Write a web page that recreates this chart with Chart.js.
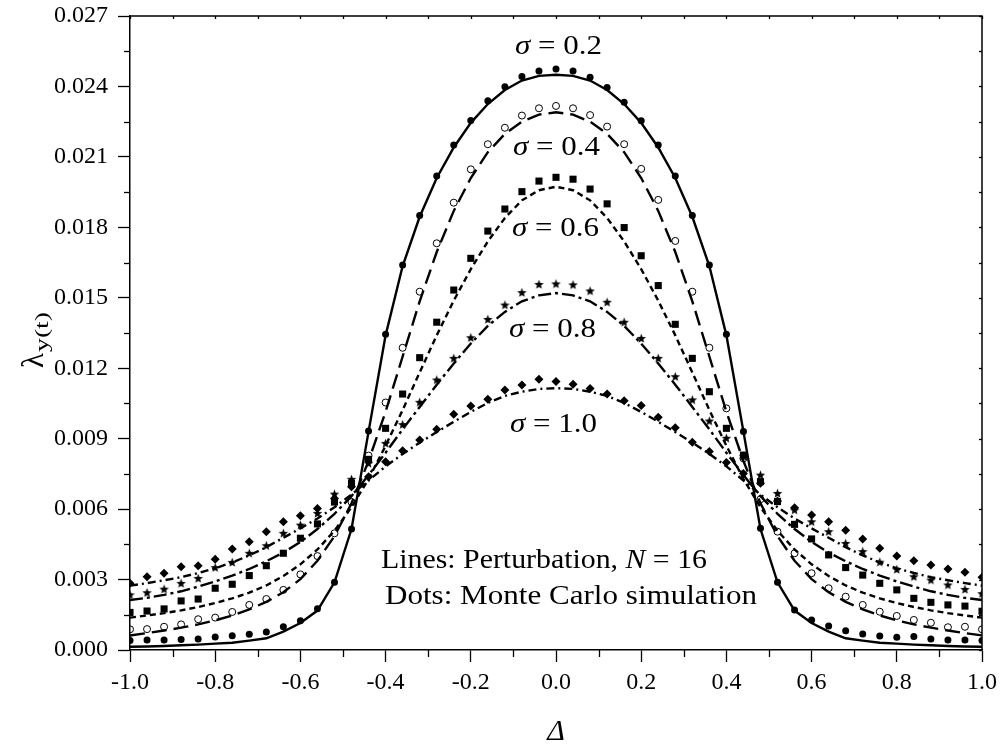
<!DOCTYPE html>
<html><head><meta charset="utf-8">
<script src="https://cdn.jsdelivr.net/npm/chart.js@4.4.0/dist/chart.umd.min.js"></script>
<style>html,body{margin:0;padding:0;background:#fff}#wrap{width:1000px;height:746px}</style>
</head><body><div id="wrap"><canvas id="c" width="1000" height="746"></canvas></div>
<script>
// ---------- data ----------
const deltaX = [-1.00,-0.96,-0.92,-0.88,-0.84,-0.80,-0.76,-0.72,-0.68,-0.64,-0.60,-0.56,-0.52,-0.48,-0.44,-0.40,-0.36,-0.32,-0.28,-0.24,-0.20,-0.16,-0.12,-0.08,-0.04,0.00,
  0.04,0.08,0.12,0.16,0.20,0.24,0.28,0.32,0.36,0.40,0.44,0.48,0.52,0.56,0.60,0.64,0.68,0.72,0.76,0.80,0.84,0.88,0.92,0.96,1.00];

const xTicks = [-1.0,-0.8,-0.6,-0.4,-0.2,0.0,0.2,0.4,0.6,0.8,1.0];
const xMinor = [-0.9,-0.7,-0.5,-0.3,-0.1,0.1,0.3,0.5,0.7,0.9];
const yTicks = [0.000,0.003,0.006,0.009,0.012,0.015,0.018,0.021,0.024,0.027];
const yMinor = [0.0015,0.0045,0.0075,0.0105,0.0135,0.0165,0.0195,0.0225,0.0255];

// Perturbation (lines), N = 16
const pert02 = [0.00014,0.00015,0.00017,0.00020,0.00023,0.00027,0.00031,0.00040,0.00050,0.00078,0.00115,0.00168,0.00288,0.00515,0.00930,0.01340,0.01635,0.01845,0.02010,0.02140,0.02245,0.02325,0.02385,0.02425,0.02445,0.02450,
  0.02445,0.02425,0.02385,0.02325,0.02245,0.02140,0.02010,0.01845,0.01635,0.01340,0.00930,0.00515,0.00288,0.00168,0.00115,0.00078,0.00050,0.00040,0.00031,0.00027,0.00023,0.00020,0.00017,0.00015,0.00014];
const pert04 = [0.00062,0.00072,0.00083,0.00095,0.00109,0.00126,0.00147,0.00173,0.00205,0.00246,0.00302,0.00380,0.00485,0.00625,0.00805,0.01015,0.01250,0.01485,0.01695,0.01870,0.02010,0.02120,0.02198,0.02250,0.02280,0.02290,
  0.02280,0.02250,0.02198,0.02120,0.02010,0.01870,0.01695,0.01485,0.01250,0.01015,0.00805,0.00625,0.00485,0.00380,0.00302,0.00246,0.00205,0.00173,0.00147,0.00126,0.00109,0.00095,0.00083,0.00072,0.00062];
const pert06 = [0.00138,0.00147,0.00157,0.00169,0.00183,0.00200,0.00220,0.00244,0.00275,0.00315,0.00365,0.00428,0.00508,0.00608,0.00728,0.00870,0.01022,0.01182,0.01340,0.01488,0.01622,0.01740,0.01840,0.01915,0.01958,0.01973,
  0.01958,0.01915,0.01840,0.01740,0.01622,0.01488,0.01340,0.01182,0.01022,0.00870,0.00728,0.00608,0.00508,0.00428,0.00365,0.00315,0.00275,0.00244,0.00220,0.00200,0.00183,0.00169,0.00157,0.00147,0.00138];
const pert08 = [0.00213,0.00222,0.00235,0.00250,0.00270,0.00292,0.00317,0.00345,0.00378,0.00415,0.00460,0.00515,0.00580,0.00655,0.00745,0.00840,0.00940,0.01035,0.01130,0.01220,0.01305,0.01380,0.01440,0.01485,0.01510,0.01520,
  0.01510,0.01485,0.01440,0.01380,0.01305,0.01220,0.01130,0.01035,0.00940,0.00840,0.00745,0.00655,0.00580,0.00515,0.00460,0.00415,0.00378,0.00345,0.00317,0.00292,0.00270,0.00250,0.00235,0.00222,0.00213];
const pert10 = [0.00274,0.00285,0.00297,0.00310,0.00328,0.00348,0.00373,0.00403,0.00438,0.00478,0.00518,0.00560,0.00608,0.00662,0.00722,0.00782,0.00835,0.00883,0.00928,0.00972,0.01014,0.01052,0.01082,0.01100,0.01112,0.01115,
  0.01112,0.01100,0.01082,0.01052,0.01014,0.00972,0.00928,0.00883,0.00835,0.00782,0.00722,0.00662,0.00608,0.00560,0.00518,0.00478,0.00438,0.00403,0.00373,0.00348,0.00328,0.00310,0.00297,0.00285,0.00274];

// Monte Carlo simulation (dots)
const mc02 = [0.00040,0.00043,0.00043,0.00045,0.00047,0.00055,0.00061,0.00067,0.00077,0.00099,0.00125,0.00176,0.00288,0.00515,0.00933,0.01345,0.01640,0.01850,0.02019,0.02151,0.02255,0.02339,0.02399,0.02442,0.02466,0.02474,
  0.02466,0.02439,0.02396,0.02333,0.02254,0.02151,0.02019,0.01850,0.01640,0.01345,0.00930,0.00518,0.00288,0.00170,0.00128,0.00102,0.00082,0.00068,0.00060,0.00054,0.00057,0.00047,0.00043,0.00043,0.00040];
const mc04 = [0.00088,0.00089,0.00099,0.00109,0.00131,0.00138,0.00162,0.00192,0.00217,0.00256,0.00322,0.00400,0.00497,0.00630,0.00828,0.01054,0.01287,0.01526,0.01732,0.01905,0.02047,0.02154,0.02224,0.02276,0.02307,0.02317,
  0.02307,0.02278,0.02229,0.02154,0.02049,0.01917,0.01742,0.01526,0.01287,0.01029,0.00816,0.00642,0.00504,0.00412,0.00327,0.00263,0.00227,0.00192,0.00163,0.00145,0.00128,0.00116,0.00097,0.00099,0.00088];
const mc06 = [0.00160,0.00166,0.00175,0.00209,0.00217,0.00263,0.00280,0.00317,0.00359,0.00412,0.00476,0.00537,0.00630,0.00710,0.00812,0.00944,0.01090,0.01245,0.01396,0.01533,0.01668,0.01784,0.01878,0.01952,0.01997,0.02013,
  0.02005,0.01963,0.01900,0.01799,0.01679,0.01552,0.01387,0.01242,0.01100,0.00944,0.00830,0.00717,0.00632,0.00535,0.00473,0.00405,0.00351,0.00319,0.00284,0.00256,0.00220,0.00203,0.00192,0.00187,0.00165];
const mc08 = [0.00235,0.00244,0.00259,0.00284,0.00305,0.00351,0.00373,0.00412,0.00444,0.00497,0.00532,0.00582,0.00664,0.00727,0.00795,0.00880,0.00960,0.01055,0.01150,0.01242,0.01330,0.01408,0.01469,0.01522,0.01557,0.01559,
  0.01555,0.01529,0.01481,0.01396,0.01327,0.01242,0.01164,0.01065,0.00975,0.00902,0.00825,0.00745,0.00667,0.00596,0.00546,0.00504,0.00454,0.00419,0.00374,0.00343,0.00312,0.00298,0.00277,0.00258,0.00240];
const mc10 = [0.00284,0.00312,0.00327,0.00355,0.00359,0.00386,0.00430,0.00461,0.00504,0.00546,0.00572,0.00603,0.00645,0.00695,0.00738,0.00802,0.00849,0.00894,0.00940,0.01004,0.01039,0.01068,0.01107,0.01129,0.01153,0.01143,
  0.01132,0.01114,0.01090,0.01062,0.01041,0.00991,0.00947,0.00885,0.00845,0.00799,0.00752,0.00710,0.00635,0.00606,0.00575,0.00546,0.00510,0.00473,0.00433,0.00400,0.00380,0.00362,0.00345,0.00331,0.00310];

const sigmaLabels = ['0.2','0.4','0.6','0.8','1.0'];

// ---------- helpers ----------
const SERIF = "'Liberation Serif','Times New Roman',serif";
function pts(arr){ return deltaX.map((x,i)=>({x:x, y:arr[i]})); }

function starCanvas(){
  const c = document.createElement('canvas'); c.width = 11; c.height = 11;
  const g = c.getContext('2d'); g.fillStyle = '#000'; g.beginPath();
  for (let k=0;k<10;k++){
    const r = (k%2===0) ? 5 : 2.1;
    const a = -Math.PI/2 + k*Math.PI/5;
    const px = 5.5 + r*Math.cos(a), py = 5.8 + r*Math.sin(a);
    if (k===0) g.moveTo(px,py); else g.lineTo(px,py);
  }
  g.closePath(); g.fill(); return c;
}
const STAR = starCanvas();

function lineDs(arr, dash){
  return {type:'line', data:pts(arr), borderColor:'#000', borderWidth:2.4, borderDash:dash,
    pointRadius:0, tension:0, fill:false, order:2};
}
function dotDs(arr, style, r, bg, bw){
  return {type:'line', data:pts(arr), showLine:false, pointStyle:style, pointRadius:r,
    pointBackgroundColor:bg, pointBorderColor:'#000', pointBorderWidth:bw, order:1};
}

function drawParts(ctx, parts, x, yBase, size, targetW){
  let w = 0;
  parts.forEach(p=>{ ctx.font = (p.i?'italic ':'') + size + 'px ' + SERIF; p.w = ctx.measureText(p.t).width; w += p.w; });
  const sx = targetW ? targetW / w : 1;
  ctx.save(); ctx.translate(x, yBase); ctx.scale(sx, 1);
  let cx = 0;
  parts.forEach(p=>{ ctx.font = (p.i?'italic ':'') + size + 'px ' + SERIF; ctx.fillText(p.t, cx, 0); cx += p.w; });
  ctx.restore();
}

const overlay = {
  id:'overlay',
  afterDraw(chart){
    const ctx = chart.ctx, a = chart.chartArea, xs = chart.scales.x, ys = chart.scales.y;
    ctx.save();
    ctx.strokeStyle = '#000'; ctx.fillStyle = '#000';
    ctx.lineWidth = 1.5;
    ctx.beginPath(); ctx.moveTo(a.left, a.top); ctx.lineTo(a.right, a.top); ctx.lineTo(a.right, a.bottom); ctx.stroke();
    ctx.lineWidth = 1.3;
    const seg = (x1,y1,x2,y2)=>{ ctx.beginPath(); ctx.moveTo(x1,y1); ctx.lineTo(x2,y2); ctx.stroke(); };
    xMinor.forEach(v=>{ const p = Math.round(xs.getPixelForValue(v))+0.5; seg(p, a.bottom, p, a.bottom+7); });
    yMinor.forEach(v=>{ const p = Math.round(ys.getPixelForValue(v))+0.5; seg(a.left-6, p, a.left, p); });
    xTicks.concat(xMinor).forEach(v=>{ const p = Math.round(xs.getPixelForValue(v))+0.5; seg(p, a.top, p, a.top+3); });
    yTicks.concat(yMinor).forEach(v=>{ const p = Math.round(ys.getPixelForValue(v))+0.5; seg(a.right-3, p, a.right, p); });

    ctx.textAlign = 'left'; ctx.textBaseline = 'alphabetic';
    // sigma labels
    const sigPos = [[515,53.5],[513,155],[512,236],[509,336.5],[510,431.5]];
    sigmaLabels.forEach((s,i)=>{
      drawParts(ctx, [{t:'\u03C3',i:true},{t:' = '},{t:s}], sigPos[i][0], sigPos[i][1], 27, 87);
    });
    // note
    drawParts(ctx, [{t:'Lines: Perturbation, '},{t:'N',i:true},{t:' = 16'}], 381, 568, 27, 326);
    drawParts(ctx, [{t:'Dots: Monte Carlo simulation'}], 385, 604, 27, 372);
    // x title
    ctx.font = 'italic 30px ' + SERIF; ctx.textAlign = 'center';
    ctx.fillText('\u0394', 556, 740);
    // y title (rotated)
    ctx.save(); ctx.translate(43, 368); ctx.rotate(-Math.PI/2);
    ctx.textAlign = 'left';
    ctx.font = '31px ' + SERIF; ctx.fillText('\u03BB', 0, 0);
    const lw = ctx.measureText('\u03BB').width;
    drawParts(ctx, [{t:'y(t)'}], lw + 1, 5, 19, 40);
    ctx.restore();
    ctx.restore();
  }
};

new Chart(document.getElementById('c'), {
  type:'line',
  data:{ datasets:[
    lineDs(pert02, []),
    lineDs(pert04, [15,7]),
    lineDs(pert06, [6,4]),
    lineDs(pert08, [13,4,3,4]),
    lineDs(pert10, [8,4,2,4]),
    dotDs(mc02, 'circle', 3.5, '#000', 0),
    dotDs(mc04, 'circle', 3.5, 'rgba(255,255,255,0)', 1),
    dotDs(mc06, 'rect', 5, '#000', 0),
    dotDs(mc08, STAR, 5, '#000', 0),
    dotDs(mc10, 'rectRot', 4.5, '#000', 0)
  ]},
  options:{
    responsive:false, animation:false, devicePixelRatio:1,
    layout:{padding:{left:0, top:16, right:18, bottom:0}},
    plugins:{legend:{display:false}, tooltip:{enabled:false}},
    scales:{
      x:{type:'linear', min:-1, max:1,
        afterBuildTicks:s=>{ s.ticks = xTicks.map(v=>({value:v})); },
        afterFit:s=>{ s.height = 96; s.paddingLeft = 0; s.paddingRight = 0; },
        ticks:{callback:v=>Number(v).toFixed(1), font:{family:SERIF, size:24}, color:'#000', padding:6, maxRotation:0, autoSkip:false},
        grid:{drawOnChartArea:false, drawTicks:true, tickLength:12, tickWidth:1.3, tickColor:'#000'},
        border:{display:true, color:'#000', width:1.5}
      },
      y:{type:'linear', min:0, max:0.027,
        afterBuildTicks:s=>{ s.ticks = yTicks.map(v=>({value:v})); },
        afterFit:s=>{ s.width = 130; s.paddingTop = 0; s.paddingBottom = 0; },
        ticks:{callback:v=>Number(v).toFixed(3), font:{family:SERIF, size:24}, color:'#000', padding:10, autoSkip:false},
        grid:{drawOnChartArea:false, drawTicks:true, tickLength:12, tickWidth:1.3, tickColor:'#000'},
        border:{display:true, color:'#000', width:1.5}
      }
    }
  },
  plugins:[overlay]
});
</script></body></html>
